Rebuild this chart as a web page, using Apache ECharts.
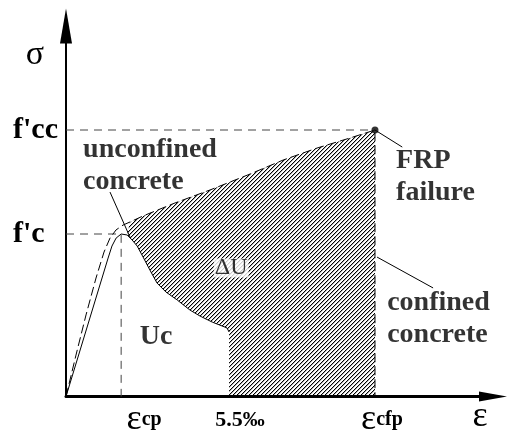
<!DOCTYPE html>
<html>
<head>
<meta charset="utf-8">
<script src="https://cdn.jsdelivr.net/npm/echarts@6/dist/echarts.min.js"></script>
<style>
  html, body { margin: 0; padding: 0; background: #fff; }
  #chart { width: 507px; height: 439px; }
</style>
</head>
<body>
<div id="chart"></div>
<script>
// Characteristic strains (per mille) and stresses (relative to f'c)
const EPS_CP = 1.86;
const EPS_LIMIT = 5.5;
const EPS_CFP = 10.42;
const FC = 1.0;
const FCC = 1.64;

// Unconfined concrete: linear rise, peak at f'c, softening branch down to 5.5‰
const unconfinedStrain = [0, 1.42, 1.55, 1.69, 1.86, 2.06, 2.23, 2.40, 2.60, 2.83, 3.07, 3.37, 3.75, 4.18, 4.52, 4.93, 5.43, 5.5];
const unconfinedStress = [0, 0.852, 0.926, 0.975, 1.0, 0.994, 0.963, 0.926, 0.858, 0.778, 0.698, 0.643, 0.594, 0.532, 0.495, 0.458, 0.422, 0.397];

// FRP-confined concrete: rise, transition near f'c, hardening branch up to f'cc at rupture
const confinedStrain = [0, 0.337, 0.675, 1.012, 1.282, 1.484, 1.687, 1.923, 2.159, 2.598, 3.677, 4.858, 6.208, 7.321, 8.468, 9.582, 10.42, 10.42];
const confinedStress = [0, 0.255, 0.502, 0.729, 0.889, 0.975, 1.025, 1.055, 1.074, 1.111, 1.191, 1.271, 1.369, 1.455, 1.529, 1.591, 1.64, 0];

// Axis tick labels
const strainTickValues = [EPS_CP, EPS_LIMIT, EPS_CFP];
const stressTickValues = [FC, FCC];
const stressTickLabels = ["f'c", "f'cc"];

// Annotation texts and the points they refer to
const noteTexts = ['unconfined\nconcrete', 'FRP\nfailure', 'confined\nconcrete', 'Uc', 'ΔU'];
const noteAnchors = [[0.574, 1.418], [11.13, 1.351], [10.83, 0.477], [3.04, 0.366], [5.57, 0.791]];
const leaderLines = [
  [[1.484, 1.258], [2.159, 0.98]],
  [[EPS_CFP, FCC], [11.34, 1.535]],
  [[10.49, 0.858], [12.38, 0.668]]
];

const SERIF = '"Liberation Serif", "Times New Roman", serif';

function zip(xs, ys) { return xs.map((x, i) => [x, ys[i]]); }

const unconfinedPts = zip(unconfinedStrain, unconfinedStress);
const confinedPts = zip(confinedStrain, confinedStress);

// Extra energy region ΔU: between the confined curve and the unconfined softening branch
const hatchOutline = []
  .concat(confinedPts.filter(p => p[0] >= 2.1))
  .concat([[EPS_LIMIT, 0]])
  .concat(unconfinedPts.filter(p => p[0] >= 2.0).reverse());

// 45° hatching tile, 4 px period
function hatchTile() {
  const c = document.createElement('canvas');
  c.width = 4; c.height = 4;
  const ctx = c.getContext('2d');
  for (let i = 0; i < 4; i++) {
    ctx.fillStyle = '#000';
    ctx.fillRect(i, 3 - i, 1, 1);
    ctx.fillStyle = 'rgba(0,0,0,0.3)';
    ctx.fillRect(i, (4 - i) % 4, 1, 1);
  }
  return c;
}
const tile = hatchTile();

function near(a, b) { return Math.abs(a - b) < 1e-6; }

const chart = echarts.init(document.getElementById('chart'), null, { renderer: 'canvas' });

const guideStyle = { color: '#444', width: 1, type: [8, 6] };

const series = [
  {
    type: 'custom',
    name: 'ΔU',
    coordinateSystem: 'cartesian2d',
    data: [[0, 0]],
    silent: true,
    z: 1,
    renderItem: function (params, api) {
      return {
        type: 'polygon',
        shape: { points: hatchOutline.map(p => api.coord(p)) },
        style: { fill: { image: tile, repeat: 'repeat' }, stroke: null }
      };
    }
  },
  {
    type: 'line', name: 'guide fcc', data: [[0, FCC], [EPS_CFP, FCC]],
    symbol: 'none', lineStyle: guideStyle, silent: true, z: 2
  },
  {
    type: 'line', name: 'guide fc', data: [[0, FC], [EPS_CP, FC], [EPS_CP, 0]],
    symbol: 'none', lineStyle: guideStyle, silent: true, z: 2
  },
  {
    type: 'line', name: 'unconfined', data: unconfinedPts,
    symbol: 'none', lineStyle: { color: '#000', width: 1 }, silent: true, z: 3
  },
  {
    type: 'line', name: 'confined', data: confinedPts,
    symbol: 'none', lineStyle: { color: '#000', width: 1, type: [9, 4] }, silent: true, z: 3
  }
];

leaderLines.forEach(function (seg, i) {
  series.push({
    type: 'line', name: 'leader ' + i, data: seg,
    symbol: 'none', lineStyle: { color: '#000', width: 1 }, silent: true, z: 3
  });
});

series.push({
  type: 'scatter', name: 'FRP rupture', data: [[EPS_CFP, FCC]],
  symbolSize: 7, itemStyle: { color: '#000' }, silent: true, z: 4
});

const noteStyles = [
  { position: 'right', fontWeight: 'bold', fontSize: 28 },
  { position: 'right', fontWeight: 'bold', fontSize: 28 },
  { position: 'right', fontWeight: 'bold', fontSize: 28 },
  { position: 'inside', fontWeight: 'bold', fontSize: 28 },
  { position: 'inside', fontWeight: 'normal', fontSize: 24, backgroundColor: '#fff', padding: [0, 1, 0, 1], lineHeight: 19 }
];

series.push({
  type: 'scatter', name: 'notes', clip: false, silent: true, z: 5,
  symbolSize: 0.1, itemStyle: { color: 'rgba(0,0,0,0)' },
  data: noteTexts.map(function (t, i) {
    const s = noteStyles[i];
    return {
      value: noteAnchors[i],
      label: {
        show: true, formatter: t, position: s.position, distance: 0,
        fontFamily: SERIF, fontWeight: s.fontWeight, fontSize: s.fontSize,
        lineHeight: s.lineHeight || 32, color: '#000',
        backgroundColor: s.backgroundColor || 'transparent',
        padding: s.padding || 0
      }
    };
  })
});

chart.setOption({
  animation: false,
  backgroundColor: '#fff',
  grid: { left: 66, right: 14, top: 26, bottom: 42.5, containLabel: false },
  xAxis: {
    type: 'value', min: 0, max: 14.4,
    name: 'ε', nameLocation: 'end', nameGap: -13,
    nameTextStyle: { fontFamily: SERIF, fontSize: 36, color: '#000', align: 'center', verticalAlign: 'top', lineHeight: 36, padding: [2, 0, 0, 0] },
    axisLine: { show: true, symbol: ['none', 'triangle'], symbolSize: [10, 28], lineStyle: { color: '#000', width: 3 } },
    axisTick: { show: false },
    splitLine: { show: false },
    axisLabel: {
      show: true, customValues: strainTickValues, margin: 6, color: '#000',
      formatter: function (v) {
        if (near(v, EPS_CP)) return '{ep|ε}{sub|cp}';
        if (near(v, EPS_LIMIT)) return '{lim|5.5‰}';
        if (near(v, EPS_CFP)) return '{ef|ε}{sub|cfp}';
        return '';
      },
      rich: {
        ep: { fontFamily: SERIF, fontSize: 36, padding: [0, 0, 0, 46], lineHeight: 34 },
        ef: { fontFamily: SERIF, fontSize: 36, padding: [0, 0, 0, 14], lineHeight: 34 },
        sub: { fontFamily: SERIF, fontSize: 20, fontWeight: 'bold', lineHeight: 34 },
        lim: { fontFamily: SERIF, fontSize: 22, fontWeight: 'bold', padding: [0, 0, 0, 22], lineHeight: 36 }
      }
    }
  },
  yAxis: {
    type: 'value', min: 0, max: 2.28,
    name: 'σ', nameLocation: 'end', nameGap: -29,
    nameTextStyle: { fontFamily: SERIF, fontSize: 34, color: '#000', align: 'center', verticalAlign: 'middle', padding: [0, 62, 0, 0] },
    axisLine: { show: true, symbol: ['none', 'triangle'], symbolSize: [12, 35], lineStyle: { color: '#000', width: 2 } },
    axisTick: { show: false },
    splitLine: { show: false },
    axisLabel: {
      show: true, customValues: stressTickValues, align: 'left', margin: 53,
      fontFamily: SERIF, fontWeight: 'bold', fontSize: 30, color: '#000',
      formatter: function (v) {
        const i = stressTickValues.findIndex(t => near(t, v));
        return i >= 0 ? stressTickLabels[i] : '';
      }
    }
  },
  series: series
});
</script>
</body>
</html>
